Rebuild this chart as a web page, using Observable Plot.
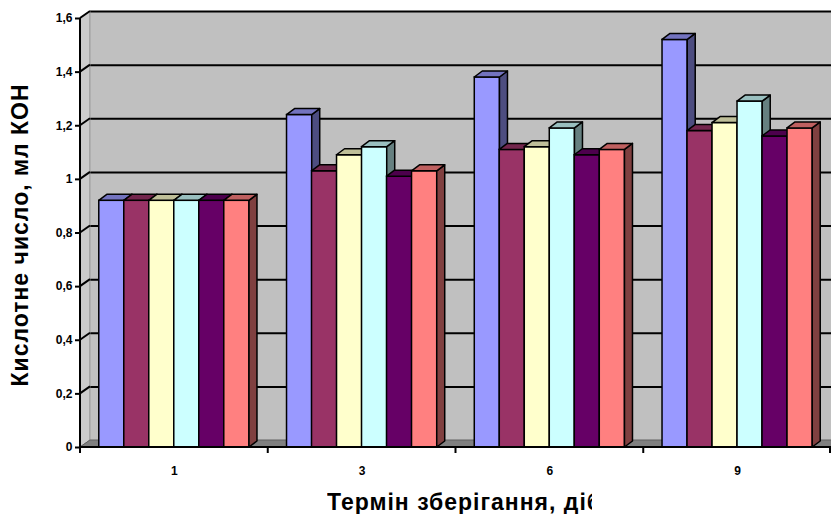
<!DOCTYPE html>
<html>
<head>
<meta charset="utf-8">
<script src="https://cdn.jsdelivr.net/npm/d3@7"></script>
<script src="https://cdn.jsdelivr.net/npm/@observablehq/plot@0.6"></script>
<style>
  body { margin: 0; background: #fff; }
  #wrap { position: relative; width: 831px; height: 517px; overflow: hidden; font-family: "Liberation Sans", Arial, sans-serif; }
  #wrap svg { position: absolute; left: 0; top: 0; }
  #chart svg text { font-weight: bold; font-size: 12px; fill: #000; }
  #ytitle { position: absolute; left: 20px; top: 235px; transform: translate(-50%, -50%) rotate(-90deg); font-weight: bold; font-size: 23px; letter-spacing: 1px; line-height: 23px; white-space: nowrap; color: #000; }
  #xtitle { position: absolute; left: 327px; top: 490px; width: 265px; overflow: hidden; white-space: nowrap; font-weight: bold; font-size: 23px; letter-spacing: 1px; line-height: 24px; color: #000; }
</style>
</head>
<body>
<div id="wrap">
  <div id="chart"></div>
  <div id="ytitle">Кислотне число, мл КОН</div>
  <div id="xtitle">Термін зберігання, діб</div>
</div>
<script>
// ---- data ----
const days = ["1", "3", "6", "9"];
const seriesColors = ["#9999FF", "#993366", "#FFFFCC", "#CCFFFF", "#660066", "#FF8080"];
const series1 = [0.92, 1.24, 1.38, 1.52];
const series2 = [0.92, 1.03, 1.11, 1.18];
const series3 = [0.92, 1.09, 1.12, 1.21];
const series4 = [0.92, 1.12, 1.19, 1.29];
const series5 = [0.92, 1.01, 1.09, 1.16];
const series6 = [0.92, 1.03, 1.11, 1.19];
const yTicks = [0, 0.2, 0.4, 0.6, 0.8, 1, 1.2, 1.4, 1.6];

const allSeries = [series1, series2, series3, series4, series5, series6];
const fmt = d => String(d).replace(".", ",");

const W = 831, H = 517;
const wallDx = 10, wallDy = -7;   // 3D back-wall offset
const barDx = 8, barDy = -6;      // 3D bar depth

const nS = allSeries.length;
const barW = 25;

const chart = Plot.plot({
  width: W, height: H,
  marginLeft: 80, marginRight: 0, marginTop: 18, marginBottom: 70,
  style: { fontFamily: '"Liberation Sans", Arial, sans-serif', fontSize: "12px", fontWeight: "bold", color: "#000", background: "transparent" },
  x: { domain: days, paddingInner: 0.2, paddingOuter: 0.1, round: false, label: null },
  y: { domain: [0, 1.6], label: null },
  marks: [
    Plot.frame({ fill: "#C0C0C0", stroke: null, dx: wallDx, dy: wallDy }),
    Plot.ruleY(yTicks.filter(d => d > 0), { stroke: "#000", strokeWidth: 2, dx: wallDx, dy: wallDy }),
    ...allSeries.map((vals, i) => Plot.barY(
      days.map((d, j) => ({ day: d, value: vals[j] })),
      { x: "day", y: "value", fill: seriesColors[i], stroke: "#000", strokeWidth: 1.5,
        insetLeft: i * barW, insetRight: (nS - 1 - i) * barW }
    )),
    Plot.axisY({ ticks: yTicks, tickSize: 5, tickPadding: 3, tickFormat: fmt, strokeWidth: 2, label: null, textStroke: null }),
    Plot.axisX({ tickSize: 0, tickPadding: 19, label: null })
  ]
});
document.getElementById("chart").appendChild(chart);
d3.select(chart).selectAll("text").attr("font-weight", "bold").attr("font-size", 12);

// ---- 3D decorations derived from the plot's scales ----
const ys = chart.scale("y"), xs = chart.scale("x");
const y0 = ys.apply(0), yTop = ys.apply(1.6);
const [xL, xR] = xs.range;
const ns = "http://www.w3.org/2000/svg";
const svg = chart;
const firstBar = svg.querySelector('g[aria-label="bar"]');
const deco = document.createElementNS(ns, "g");
svg.insertBefore(deco, firstBar);
function poly(parent, pts, fill, stroke, sw) {
  const p = document.createElementNS(ns, "polygon");
  p.setAttribute("points", pts.map(q => q.join(",")).join(" "));
  p.setAttribute("fill", fill);
  p.setAttribute("stroke", stroke || "none");
  if (sw) p.setAttribute("stroke-width", sw);
  p.setAttribute("stroke-linejoin", "round");
  parent.appendChild(p);
  return p;
}
function line(parent, x1, y1, x2, y2, stroke, sw) {
  const l = document.createElementNS(ns, "line");
  l.setAttribute("x1", x1); l.setAttribute("y1", y1);
  l.setAttribute("x2", x2); l.setAttribute("y2", y2);
  l.setAttribute("stroke", stroke); l.setAttribute("stroke-width", sw);
  parent.appendChild(l);
}
// left side wall
poly(deco, [[xL, yTop], [xL + wallDx, yTop + wallDy], [xL + wallDx, y0 + wallDy], [xL, y0]], "#CCCCCC", "#808080", 1);
// floor
poly(deco, [[xL, y0], [xL + wallDx, y0 + wallDy], [xR + wallDx, y0 + wallDy], [xR, y0]], "#808080", "#606060", 1);
// gridline diagonals on the left wall
yTicks.filter(d => d > 0).forEach(v => {
  const yy = ys.apply(v);
  line(deco, xL, yy, xL + wallDx, yy + wallDy, "#000", 2);
});

// bar side and top faces
function shade(c, k) {
  const col = d3.rgb(c);
  return d3.rgb(col.r * k, col.g * k, col.b * k).formatHex();
}
svg.querySelectorAll('g[aria-label="bar"]').forEach((g, i) => {
  const c = seriesColors[i];
  g.querySelectorAll("rect").forEach(r => {
    const x = +r.getAttribute("x"), y = +r.getAttribute("y");
    const w = +r.getAttribute("width"), h = +r.getAttribute("height");
    const side = document.createElementNS(ns, "polygon");
    side.setAttribute("points", [[x + w, y], [x + w + barDx, y + barDy], [x + w + barDx, y + h + barDy], [x + w, y + h]].map(q => q.join(",")).join(" "));
    side.setAttribute("fill", shade(c, 0.5));
    side.setAttribute("stroke-linejoin", "round");
    const top = document.createElementNS(ns, "polygon");
    top.setAttribute("points", [[x, y], [x + barDx, y + barDy], [x + w + barDx, y + barDy], [x + w, y]].map(q => q.join(",")).join(" "));
    top.setAttribute("fill", shade(c, 0.75));
    top.setAttribute("stroke-linejoin", "round");
    r.after(side);
    side.after(top);
  });
});

// axis lines and category separator ticks
const axes = document.createElementNS(ns, "g");
svg.appendChild(axes);
line(axes, xL, yTop, xL, y0, "#000", 2);
line(axes, xL, y0, xR, y0, "#000", 2);
const gap = xs.step - xs.bandwidth;
days.forEach(d => {
  const xb = xs.apply(d) - gap / 2;
  line(axes, xb, y0, xb, y0 + 6, "#000", 2);
});
line(axes, xR - 1, y0, xR - 1, y0 + 6, "#000", 2);
</script>
</body>
</html>
